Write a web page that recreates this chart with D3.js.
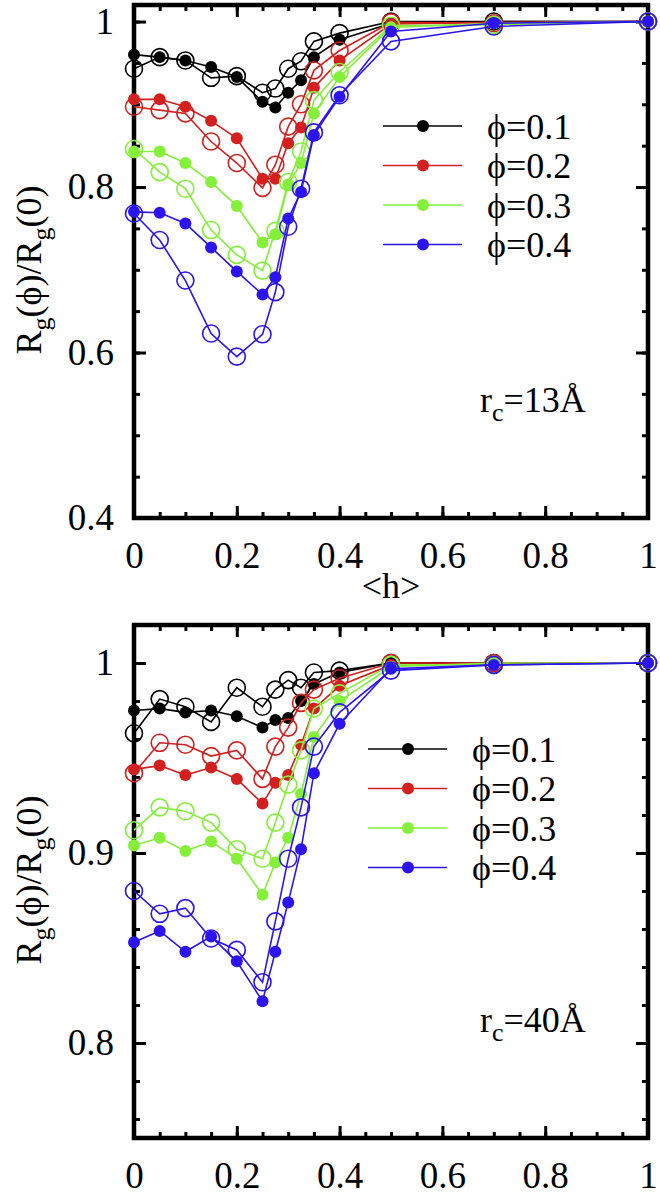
<!DOCTYPE html>
<html lang="en">
<head>
<meta charset="utf-8">
<title>Rg ratio vs h</title>
<script src="https://d3js.org/d3.v7.min.js"></script>
<style>
body { margin: 0; background: #fff; }
svg { display: block; font-family: "Liberation Serif", "DejaVu Serif", serif; }
.tick line { stroke: #000; stroke-width: 3px; }
</style>
</head>
<body>
<svg width="660" height="1198"></svg>
<script>

var hVals = [0, 0.05, 0.1, 0.15, 0.2, 0.25, 0.275, 0.3, 0.325, 0.35, 0.4, 0.5, 0.7, 1.0];
var phiLabels = ["ϕ=0.1", "ϕ=0.2", "ϕ=0.3", "ϕ=0.4"];
var colors = ["#000000", "#d41f1f", "#84f03a", "#2c14f0"];

// rc = 13 A, filled symbols
var rc13Filled = [
  [0.960, 0.957, 0.953, 0.945, 0.933, 0.903, 0.896, 0.914, 0.929, 0.957, 0.978, 0.998, 1.0, 1.0],
  [0.906, 0.906, 0.897, 0.880, 0.859, 0.810, 0.810, 0.853, 0.872, 0.920, 0.953, 0.997, 0.999, 1.0],
  [0.843, 0.843, 0.829, 0.806, 0.777, 0.733, 0.743, 0.803, 0.829, 0.889, 0.933, 0.993, 0.998, 1.0],
  [0.770, 0.769, 0.756, 0.727, 0.698, 0.670, 0.691, 0.762, 0.794, 0.863, 0.909, 0.988, 0.998, 1.0]
];
// rc = 13 A, open symbols
var rc13Open = [
  [0.943, 0.957, 0.953, 0.932, 0.934, 0.914, 0.919, 0.943, 0.952, 0.976, 0.986, 1.0, 1.0, 1.0],
  [0.897, 0.893, 0.889, 0.855, 0.829, 0.799, 0.827, 0.873, 0.900, 0.941, 0.965, 0.999, 0.998, 1.0],
  [0.846, 0.818, 0.798, 0.748, 0.718, 0.699, 0.747, 0.806, 0.843, 0.905, 0.939, 0.995, 0.996, 1.0],
  [0.768, 0.736, 0.687, 0.623, 0.595, 0.622, 0.673, 0.752, 0.798, 0.866, 0.911, 0.976, 0.994, 1.0]
];
// rc = 40 A, filled symbols
var rc40Filled = [
  [0.975, 0.976, 0.974, 0.975, 0.972, 0.966, 0.970, 0.971, 0.980, 0.989, 0.995, 1.0, 1.0, 1.0],
  [0.944, 0.946, 0.941, 0.945, 0.939, 0.926, 0.937, 0.941, 0.957, 0.976, 0.988, 0.999, 1.0, 1.0],
  [0.904, 0.908, 0.901, 0.906, 0.897, 0.878, 0.895, 0.908, 0.931, 0.961, 0.980, 0.998, 1.0, 1.0],
  [0.853, 0.859, 0.848, 0.856, 0.843, 0.822, 0.848, 0.874, 0.902, 0.942, 0.968, 0.997, 0.999, 1.0]
];
// rc = 40 A, open symbols
var rc40Open = [
  [0.963, 0.981, 0.977, 0.969, 0.987, 0.977, 0.986, 0.991, 0.987, 0.995, 0.996, 1.0, 1.0, 1.0],
  [0.942, 0.958, 0.957, 0.951, 0.954, 0.939, 0.956, 0.966, 0.979, 0.986, 0.992, 1.0, 1.0, 1.0],
  [0.912, 0.924, 0.922, 0.916, 0.902, 0.897, 0.916, 0.936, 0.954, 0.976, 0.984, 0.999, 0.999, 1.0],
  [0.880, 0.868, 0.871, 0.855, 0.849, 0.832, 0.864, 0.897, 0.924, 0.956, 0.974, 0.996, 0.999, 1.0]
];

var xTicks = [0, 0.2, 0.4, 0.6, 0.8, 1];
var xMinor = d3.range(0, 1.0001, 0.05);
var top13Ticks = [0.4, 0.6, 0.8, 1];
var top13Minor = d3.range(0.4, 1.0001, 0.05);
var bot40Ticks = [0.8, 0.9, 1];
var bot40Minor = d3.range(0.76, 1.0001, 0.02);

var svg = d3.select("svg");
var left = 134, right = 648;
var serif = "'Liberation Serif', 'DejaVu Serif', serif";

var x = d3.scaleLinear().domain([0, 1]).range([left, right]);

function drawPanel(p) {
  var y = d3.scaleLinear().domain(p.domain).range([p.bottom, p.top]);
  var g = svg.append("g");

  // minor ticks all round
  g.append("g").attr("transform", "translate(0," + p.bottom + ")")
    .call(d3.axisBottom(x).tickValues(xMinor).tickSize(-6).tickFormat(""));
  g.append("g").attr("transform", "translate(0," + p.top + ")")
    .call(d3.axisTop(x).tickValues(xMinor).tickSize(-6).tickFormat(""));
  g.append("g").attr("transform", "translate(" + left + ",0)")
    .call(d3.axisLeft(y).tickValues(p.minor).tickSize(-6).tickFormat(""));
  g.append("g").attr("transform", "translate(" + right + ",0)")
    .call(d3.axisRight(y).tickValues(p.minor).tickSize(-6).tickFormat(""));

  // major ticks with labels
  g.append("g").attr("transform", "translate(0," + p.bottom + ")")
    .call(d3.axisBottom(x).tickValues(xTicks).tickSize(-12).tickPadding(24).tickFormat(d3.format("")));
  g.append("g").attr("transform", "translate(0," + p.top + ")")
    .call(d3.axisTop(x).tickValues(xTicks).tickSize(-12).tickFormat(""));
  g.append("g").attr("transform", "translate(" + left + ",0)")
    .call(d3.axisLeft(y).tickValues(p.ticks).tickSize(-12).tickPadding(20).tickFormat(d3.format("")));
  g.append("g").attr("transform", "translate(" + right + ",0)")
    .call(d3.axisRight(y).tickValues(p.ticks).tickSize(-12).tickFormat(""));

  g.selectAll(".domain").remove();
  g.selectAll("g").attr("font-family", null).attr("font-size", null);
  g.selectAll(".tick text")
    .style("font-family", serif)
    .style("font-size", "37px")
    .style("fill", "#000");

  g.append("rect")
    .attr("x", left).attr("y", p.top)
    .attr("width", right - left).attr("height", p.bottom - p.top)
    .attr("fill", "none").attr("stroke", "#000").attr("stroke-width", 4.5);

  var line = d3.line()
    .x(function(d, i) { return x(hVals[i]); })
    .y(function(d) { return y(d); });

  for (var s = 0; s < 4; s++) {
    var c = colors[s];
    g.append("path").datum(p.open[s])
      .attr("d", line).attr("fill", "none").attr("stroke", c).attr("stroke-width", 1.6);
    g.selectAll(null).data(p.open[s]).enter().append("circle")
      .attr("cx", function(d, i) { return x(hVals[i]); })
      .attr("cy", function(d) { return y(d); })
      .attr("r", 8.5).attr("fill", "none").attr("stroke", c).attr("stroke-width", 1.6);
    g.append("path").datum(p.filled[s])
      .attr("d", line).attr("fill", "none").attr("stroke", c).attr("stroke-width", 1.6);
    g.selectAll(null).data(p.filled[s]).enter().append("circle")
      .attr("cx", function(d, i) { return x(hVals[i]); })
      .attr("cy", function(d) { return y(d); })
      .attr("r", 6).attr("fill", c);
  }

  // legend
  var leg = g.append("g").attr("transform", "translate(" + p.legX + "," + p.legY + ")");
  phiLabels.forEach(function(t, i) {
    var row = leg.append("g").attr("transform", "translate(0," + i * 39.5 + ")");
    row.append("line").attr("x1", 0).attr("x2", 79).attr("stroke", colors[i]).attr("stroke-width", 1.6);
    row.append("circle").attr("cx", 40).attr("r", 6).attr("fill", colors[i]);
    row.append("text").attr("x", 104).attr("dy", "0.35em")
      .style("font-size", "36px").text(t);
  });

  // rc label
  var rc = g.append("text").attr("x", 480).attr("y", p.rcY).style("font-size", "36px");
  rc.append("tspan").text("r");
  rc.append("tspan").attr("dy", 9).style("font-size", "26px").text("c");
  rc.append("tspan").attr("dy", -9).text("=" + p.rcText + "Å");

  // y label
  var yl = g.append("text")
    .attr("transform", "translate(" + 41 + "," + p.yLabelY + ") rotate(-90)")
    .attr("text-anchor", "middle").style("font-size", "36px");
  yl.append("tspan").text("R");
  yl.append("tspan").attr("dy", 9).style("font-size", "26px").text("g");
  yl.append("tspan").attr("dy", -9).text("(ϕ)/R");
  yl.append("tspan").attr("dy", 9).style("font-size", "26px").text("g");
  yl.append("tspan").attr("dy", -9).text("(0)");
}

drawPanel({
  domain: [0.4, 1.02], top: 5, bottom: 518,
  ticks: top13Ticks, minor: top13Minor,
  filled: rc13Filled, open: rc13Open,
  legX: 383, legY: 126, rcY: 412, rcText: "13", yLabelY: 270
});

drawPanel({
  domain: [0.75, 1.02], top: 625, bottom: 1138,
  ticks: bot40Ticks, minor: bot40Minor,
  filled: rc40Filled, open: rc40Open,
  legX: 368, legY: 749, rcY: 1032, rcText: "40", yLabelY: 880
});

svg.append("text")
  .attr("x", x(0.5)).attr("y", 598)
  .attr("text-anchor", "middle").style("font-size", "36px")
  .text("<h>");

</script>
</body>
</html>
